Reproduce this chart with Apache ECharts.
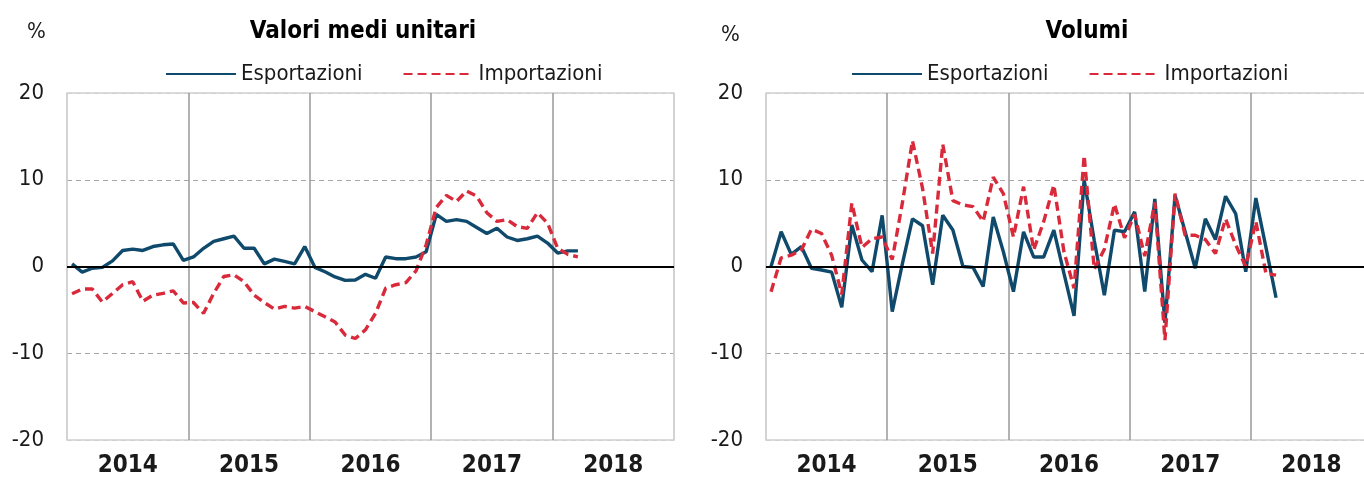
<!DOCTYPE html>
<html>
<head>
<meta charset="utf-8">
<script src="https://cdn.jsdelivr.net/npm/echarts@6/dist/echarts.min.js"></script>
<style>
html,body{margin:0;padding:0;background:#fff;}
#chart{width:1364px;height:478px;}
</style>
</head>
<body>
<div id="chart"></div>
<script>
// ---- data (monthly, Jan 2014 - Mar 2018) ----
const years = ['2014', '2015', '2016', '2017', '2018'];
const yTicks = [-20, -10, 0, 10, 20];
const seriesNames = ['Esportazioni', 'Importazioni'];
const panelTitles = ['Valori medi unitari', 'Volumi'];

const valoriEsport = [0.3,-0.65,-0.2,-0.1,0.65,1.85,2.0,1.85,2.3,2.5,2.6,0.7,
  1.1,2.1,2.9,3.2,3.5,2.1,2.1,0.3,0.85,0.6,0.3,2.3,
  -0.1,-0.6,-1.2,-1.6,-1.55,-0.9,-1.35,1.1,0.9,0.9,1.1,1.7,
  6.0,5.2,5.4,5.2,4.5,3.8,4.4,3.4,3.0,3.2,3.5,2.7,
  1.55,1.8,1.8];
const valoriImport = [-3.15,-2.6,-2.6,-4.1,-3.1,-2.1,-1.75,-4.0,-3.3,-3.1,-2.8,-4.2,
  -4.15,-5.4,-3.1,-1.15,-0.95,-1.75,-3.3,-4.15,-4.9,-4.6,-4.8,-4.6,
  -5.2,-5.8,-6.4,-7.9,-8.3,-7.3,-5.4,-2.5,-2.1,-1.85,-0.5,2.5,
  6.8,8.2,7.5,8.7,8.1,6.2,5.2,5.4,4.6,4.4,6.2,5.0,
  2.1,1.4,1.1];
const volumiEsport = [0.0,4.0,1.4,2.3,-0.2,-0.4,-0.65,-4.7,4.8,0.75,-0.6,5.9,
  -5.2,0.3,5.5,4.7,-2.1,5.9,4.2,0.0,-0.1,-2.3,5.7,1.7,
  -2.9,4.0,1.1,1.1,4.2,-0.8,-5.7,10.0,3.0,-3.3,4.2,4.0,
  6.3,-2.9,7.8,-6.5,8.2,4.0,-0.2,5.5,3.1,8.1,6.1,-0.6,
  7.9,2.2,-3.6];
const volumiImport = [-2.9,1.0,1.3,1.9,4.3,3.8,1.3,-3.2,7.3,2.2,3.2,3.4,
  0.8,7.3,14.5,9.0,1.5,14.1,7.6,7.1,6.9,5.2,10.3,8.4,
  3.4,9.2,1.9,5.2,9.4,1.7,-2.5,12.8,-0.3,2.0,7.2,3.3,
  6.0,1.2,7.4,-8.5,8.4,3.6,3.6,3.1,1.5,5.5,2.5,0.0,
  5.2,-0.8,-1.0];

// ---- styling ----
const FONT = "'Liberation Sans Narrow','Arial Narrow','DejaVu Sans Condensed',sans-serif";
const BLUE = '#0f4a6c';
const RED = '#d92a3b';
const TEXT = '#1a1a1a';

// month index -> position on a 0..60 value axis (centre of the month slot)
function toPoints(arr) { return arr.map((v, i) => [i + 0.5, v]); }

const grids = [
  { left: 67, width: 607, top: 93, bottom: 38 },
  { left: 766, width: 606, top: 93, bottom: 38 }
];

function xAxisFor(gi) {
  return {
    type: 'value', gridIndex: gi, min: 0, max: years.length * 12, interval: 12,
    axisLine: { show: false }, axisTick: { show: false },
    splitLine: { show: true, lineStyle: { color: ['#d0d0d0','#999999','#999999','#999999','#999999','#d0d0d0'], width: 1.5 } },
    axisLabel: {
      customValues: years.map((y, k) => k * 12 + 6),
      formatter: v => years[Math.floor(v / 12)],
      fontFamily: FONT, fontSize: 24, fontWeight: 'bold', color: TEXT, margin: 14
    }
  };
}
function yAxisFor(gi) {
  return {
    type: 'value', gridIndex: gi, min: yTicks[0], max: yTicks[yTicks.length - 1], interval: 10,
    axisLine: { show: false }, axisTick: { show: false },
    splitLine: { show: true, lineStyle: { color: ['#d0d0d0','#a6a6a6','#a6a6a6','#a6a6a6','#d0d0d0'], type: [5, 4], width: 1.2 } },
    axisLabel: { fontFamily: FONT, fontSize: 22, color: TEXT, margin: 23 }
  };
}
function zeroLine(gi) {
  return {
    type: 'line', xAxisIndex: gi, yAxisIndex: gi, data: [], z: 1, silent: true,
    markLine: { silent: true, symbol: 'none', label: { show: false },
      lineStyle: { color: '#000', width: 2, type: 'solid' }, data: [{ yAxis: 0 }] }
  };
}
function lineSeries(name, data, gi, dashed) {
  return {
    name: name, type: 'line', xAxisIndex: gi, yAxisIndex: gi, data: toPoints(data),
    showSymbol: false, symbol: 'none', z: 3, animation: false,
    lineStyle: { color: dashed ? RED : BLUE, width: 3.4, type: dashed ? [9, 5] : 'solid' },
    itemStyle: { color: dashed ? RED : BLUE }
  };
}

const legendCommon = {
  data: seriesNames, itemWidth: 70, itemHeight: 14, itemGap: 40, top: 58,
  itemStyle: { opacity: 0 },
  textStyle: { fontFamily: FONT, fontSize: 22, color: TEXT }, selectedMode: false
};

const option = {
  animation: false,
  backgroundColor: '#fff',
  title: [
    { text: panelTitles[0], left: 358, top: 15, textAlign: 'center',
      textStyle: { fontFamily: FONT, fontSize: 24, fontWeight: 'bold', color: '#000' } },
    { text: panelTitles[1], left: 1082, top: 15, textAlign: 'center',
      textStyle: { fontFamily: FONT, fontSize: 24, fontWeight: 'bold', color: '#000' } },
    { text: '%', left: 22, top: 16, textStyle: { fontFamily: FONT, fontSize: 22, fontWeight: 'normal', color: TEXT } },
    { text: '%', left: 716, top: 19, textStyle: { fontFamily: FONT, fontSize: 22, fontWeight: 'normal', color: TEXT } }
  ],
  legend: [
    Object.assign({}, legendCommon, { left: 160 }),
    Object.assign({}, legendCommon, { left: 846 })
  ],
  grid: grids.map(g => Object.assign({ show: true, borderColor: '#d0d0d0', borderWidth: 1.5, backgroundColor: '#fff',
    containLabel: false, outerBoundsMode: 'none' }, g)),
  xAxis: [xAxisFor(0), xAxisFor(1)],
  yAxis: [yAxisFor(0), yAxisFor(1)],
  series: [
    zeroLine(0), zeroLine(1),
    lineSeries(seriesNames[0], valoriEsport, 0, false),
    lineSeries(seriesNames[1], valoriImport, 0, true),
    lineSeries(seriesNames[0], volumiEsport, 1, false),
    lineSeries(seriesNames[1], volumiImport, 1, true)
  ]
};

const chart = echarts.init(document.getElementById('chart'), null, { renderer: 'canvas' });
chart.setOption(option);
</script>
</body>
</html>
